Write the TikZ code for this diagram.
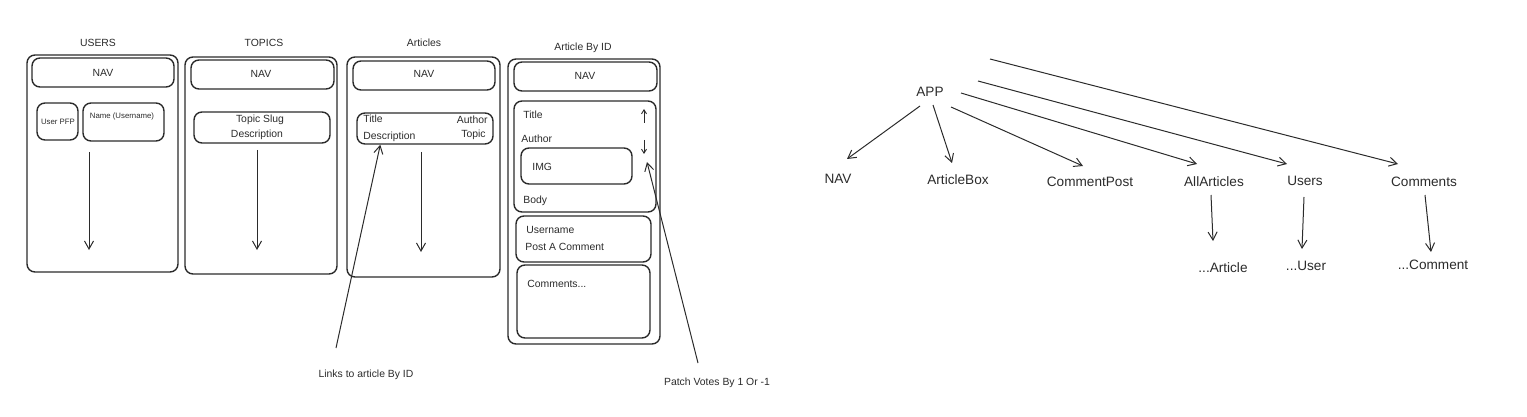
\documentclass[tikz,border=0pt]{standalone}
\usepackage{fontspec}
\setmainfont{Liberation Sans}
\usetikzlibrary{arrows.meta,fit}

\definecolor{ink}{HTML}{2B2B2B}

\begin{document}
\begin{tikzpicture}[x=0.5pt,y=-0.5pt,>={Straight Barb[length=4pt,width=4.5pt]},
	every node/.style={font=\fontsize{5.2}{6}\selectfont,text=ink,inner sep=0pt,anchor=base},
	frame/.style={draw=ink,line width=0.7pt,rounded corners=4pt,inner sep=0pt,anchor=center},
	tinytext/.style={font=\fontsize{3.9}{4.5}\selectfont},
	comp/.style={font=\fontsize{6.8}{8}\selectfont,inner sep=2pt,anchor=center},
	flow/.style={->,draw=ink,line width=0.5pt},
	vote/.style={-{Straight Barb[length=2pt,width=2.5pt]},draw=ink,line width=0.45pt}]

\useasboundingbox (0,0) rectangle (1527,417);

% USERS
\begin{scope}
\node (userstitle) at (98,47) {USERS};
\node[frame,fit={(27,55) (178,272)}] (users) {};
\node[frame,fit={(32,58) (174,87)}] (usersnav) {};
\node (usersnavtext) at (103,77) {NAV};
\node[frame,fit={(37,103) (78,140)}] (pfp) {};
\node[tinytext] (pfptext) at (58,125) {User PFP};
\node[frame,fit={(83,103) (164,141)}] (namebox) {};
\node[tinytext] (name) at (122,119) {Name (Username)};
\coordinate (usersfrom) at (89,152);
\coordinate (usersto) at (89,250);
\draw[flow] (usersfrom) -- (usersto);
\end{scope}

% TOPICS
\begin{scope}
\node (topicstitle) at (264,47) {TOPICS};
\node[frame,fit={(185,57) (337,274)}] (topics) {};
\node[frame,fit={(191,60) (334,89)}] (topicsnav) {};
\node (topicsnavtext) at (261,78) {NAV};
\node[frame,fit={(194,112) (330,143)}] (topicbox) {};
\node (slug) at (260,123) {Topic Slug};
\node (topicdesc) at (257,138) {Description};
\coordinate (topicsfrom) at (257,150);
\coordinate (topicsto) at (257,250);
\draw[flow] (topicsfrom) -- (topicsto);
\end{scope}

% Articles
\begin{scope}
\node (articlestitle) at (424,47) {Articles};
\node[frame,fit={(347,57) (500,277)}] (articles) {};
\node[frame,fit={(353,61) (495,90)}] (articlesnav) {};
\node (articlesnavtext) at (424,78) {NAV};
\node[frame,fit={(357,113) (493,144)}] (artitem) {};
\node[anchor=base west] (arttitle) at (363,123) {Title};
\node[anchor=base west] (artdesc) at (363,140) {Description};
\node[anchor=base east] (artauthor) at (488,124) {Author};
\node[anchor=base east] (arttopic) at (486,138) {Topic};
\coordinate (articlesfrom) at (421,152);
\coordinate (articlesto) at (421,252);
\draw[flow] (articlesfrom) -- (articlesto);
\node (links) at (366,377) {Links to article By ID};
\coordinate (linkfrom) at (336,348);
\draw[flow] (linkfrom) -- ([xshift=12pt]artitem.south west);
\end{scope}

% Article By ID
\begin{scope}
\node (byidtitle) at (583,51) {Article By ID};
\node[frame,fit={(508,59) (660,344)}] (byid) {};
\node[frame,fit={(514,62) (657,91)}] (byidnav) {};
\node (byidnavtext) at (585,80) {NAV};
\node[frame,fit={(514,101) (656,212)}] (artbody) {};
\node[anchor=base west] (bodytitle) at (523,119) {Title};
\node[anchor=base west] (bodyauthor) at (521,142) {Author};
\node[frame,fit={(521,148) (632,184)}] (img) {};
\node[anchor=base west] (imgtext) at (532,170) {IMG};
\node[anchor=base west] (bodytext) at (523,204) {Body};
\coordinate (upfrom) at (644,123);
\coordinate (upto) at (644,109);
\coordinate (downfrom) at (644,140);
\coordinate (downto) at (644,154);
\draw[vote] (upfrom) -- (upto);
\draw[vote] (downfrom) -- (downto);
\node[frame,fit={(516,216) (651,262)}] (postbox) {};
\node[anchor=base west] (username) at (526,234) {Username};
\node[anchor=base west] (postcomment) at (525,250) {Post A Comment};
\node[frame,fit={(517,265) (650,338)}] (commentsbox) {};
\node[anchor=base west] (commentstext) at (527,287) {Comments...};
\node (patch) at (717,385) {Patch Votes By 1 Or -1};
\coordinate (patchfrom) at (698,363);
\coordinate (patchto) at (647,162);
\draw[flow] (patchfrom) -- (patchto);
\end{scope}

% component tree
\begin{scope}
\node[comp] (app) at (930,92) {APP};
\node[comp] (nav) at (838,179) {NAV};
\node[comp] (articlebox) at (958,180) {ArticleBox};
\node[comp] (commentpost) at (1090,182) {CommentPost};
\node[comp] (allarticles) at (1214,182) {AllArticles};
\node[comp] (users) at (1305,181) {Users};
\node[comp] (comments) at (1424,182) {Comments};
\node[comp] (article) at (1223,268) {...Article};
\node[comp] (user) at (1306,266) {...User};
\node[comp] (comment) at (1433,265) {...Comment};

\draw[flow] ([shift={(-10,14)}]app.center) -- ([shift={(9,-20)}]nav.center);
\draw[flow] ([shift={(3,13)}]app.center) -- ([shift={(-6,-17)}]articlebox.center);
\draw[flow] ([shift={(21,15)}]app.center) -- ([shift={(-7,-16)}]commentpost.center);
\draw[flow] ([shift={(31,1)}]app.center) -- ([shift={(-17,-18)}]allarticles.center);
\draw[flow] ([shift={(48,-11)}]app.center) -- ([shift={(-18,-17)}]users.center);
\draw[flow] ([shift={(60,-33)}]app.center) -- ([shift={(-26,-18)}]comments.center);
\draw[flow] ([shift={(-3,13)}]allarticles.center) -- ([shift={(-10,-27)}]article.center);
\draw[flow] ([shift={(-1,16)}]users.center) -- ([shift={(-4,-17)}]user.center);
\draw[flow] ([shift={(1,13)}]comments.center) -- ([shift={(-2,-13)}]comment.center);
\end{scope}

\end{tikzpicture}
\end{document}
